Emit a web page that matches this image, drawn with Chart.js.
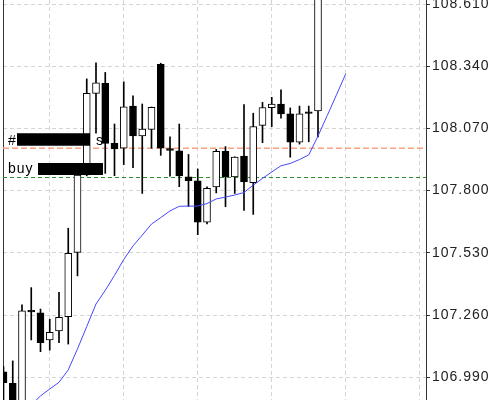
<!DOCTYPE html>
<html lang="en">
<head>
<meta charset="UTF-8">
<title>Candles</title>
<style>
  html, body { margin: 0; padding: 0; background: #fff; }
  #wrap { width: 495px; height: 400px; }
</style>
</head>
<body>
<div id="wrap"><canvas id="myChart"></canvas></div>
<script src="https://cdn.jsdelivr.net/npm/chart.js"></script>
<script>
// candle data, one entry per bar (bar index = position on the time axis)
const opens  = [107.014, 106.964, 106.880, 107.281, 107.270, 107.152, 107.191, 107.253, 107.532, 107.868,
                108.222, 108.266, 108.005, 107.984, 108.167, 108.038, 108.066, 108.348, 107.983, 107.973,
                107.860, 107.843, 107.663, 107.816, 107.971, 107.859, 107.950, 107.835, 108.083, 108.160,
                108.176, 108.133, 108.010, 108.142, 108.146];
const highs  = [107.036, 107.061, 107.304, 107.379, 107.286, 107.242, 107.359, 107.637, 107.877, 108.285,
                108.355, 108.313, 108.089, 108.272, 108.211, 108.176, 108.163, 108.353, 108.033, 108.089,
                107.957, 107.894, 107.817, 107.979, 107.991, 107.947, 108.174, 108.136, 108.183, 108.205,
                108.237, 108.159, 108.167, 108.167, 108.760];
const lows   = [106.860, 106.850, 106.860, 107.152, 107.101, 107.108, 107.140, 107.134, 107.430, 107.864,
                108.049, 107.875, 107.865, 107.913, 107.900, 107.788, 107.984, 107.953, 107.863, 107.817,
                107.731, 107.609, 107.655, 107.790, 107.730, 107.788, 107.714, 107.697, 108.008, 108.078,
                108.114, 107.945, 108.002, 108.012, 108.033];
const closes = [106.966, 106.870, 107.278, 107.274, 107.140, 107.185, 107.250, 107.528, 107.868, 108.222,
                108.268, 108.005, 107.981, 108.164, 108.037, 108.067, 108.162, 107.984, 107.975, 107.864,
                107.843, 107.663, 107.810, 107.971, 107.860, 107.946, 107.838, 108.078, 108.161, 108.176,
                108.133, 108.010, 108.133, 108.135, 108.700];

// moving average (shifted, runs 3 bars past the last candle)
const maValues = [null, null, null, 106.870, 106.909, 106.939, 106.968, 107.022, 107.113, 107.210,
                  107.308, 107.367, 107.432, 107.501, 107.560, 107.607, 107.655, 107.683, 107.712, 107.732,
                  107.733, 107.733, 107.744, 107.764, 107.772, 107.781, 107.792, 107.824, 107.853, 107.881,
                  107.908, 107.918, 107.935, 107.955, 108.037, 108.126, 108.216, 108.307];

// order lines: sell (orange), buy (green)
const orderLevels = [107.984, 107.857];

const yTicks = [106.990, 107.260, 107.530, 107.800, 108.070, 108.340, 108.610];
const xGridBars = [5, 13, 21, 29, 37, 45];

const X_MIN = -0.054, X_MAX = 45.676;
const Y_MIN = 106.8913, Y_MAX = 108.6274;

const bodyData = opens.map((o, i) => ({ x: i, y: [o, closes[i]] }));
const wickData = lows.map((l, i) => ({ x: i, y: [l, highs[i]] }));
const maData = maValues.map((v, i) => ({ x: i, y: v }));
const levelLine = v => [{ x: X_MIN, y: v }, { x: X_MAX, y: v }];

const FONT = { family: 'Liberation Sans', size: 14 };

const tradeLabels = {
  id: 'tradeLabels',
  beforeDraw(chart) {
    chart.ctx.letterSpacing = '1px';
  },
  afterDatasetsDraw(chart) {
    const ctx = chart.ctx;
    const y = chart.scales.y;
    ctx.save();
    ctx.font = '14px "Liberation Sans"';
    ctx.fillStyle = '#000';
    ctx.textBaseline = 'alphabetic';
    const p0 = y.getPixelForValue(orderLevels[0]);
    ctx.fillText('#', 8, p0 - 3);
    ctx.fillRect(17, p0 - 15, 73, 12.5);
    ctx.fillText('s', 96, p0 - 3);
    const p1 = y.getPixelForValue(orderLevels[1]);
    ctx.fillText('buy', 8, p1 - 4.5);
    ctx.fillRect(38, p1 - 14.5, 65, 12);
    ctx.restore();
  }
};

const ctx = document.getElementById('myChart');

new Chart(ctx, {
  type: 'bar',
  data: {
    datasets: [
      {
        type: 'line', data: levelLine(orderLevels[0]), borderColor: '#f8a27e', borderWidth: 1.5,
        borderDash: [6, 3], pointRadius: 0, order: 5, clip: 0
      },
      {
        type: 'line', data: levelLine(orderLevels[1]), borderColor: '#2f8f2f', borderWidth: 1,
        borderDash: [4, 3], pointRadius: 0, order: 4, clip: 0
      },
      {
        data: wickData, backgroundColor: '#000', borderWidth: 0,
        barThickness: 1, grouped: false, order: 3, clip: 0
      },
      {
        data: bodyData,
        backgroundColor: c => (closes[c.dataIndex] >= opens[c.dataIndex] ? '#fff' : '#000'),
        borderColor: '#000', borderWidth: 1, borderSkipped: false,
        barThickness: 7, grouped: false, order: 2, clip: 0
      },
      {
        type: 'line', data: maData, borderColor: 'rgb(70,70,255)', borderWidth: 1,
        pointRadius: 0, tension: 0, order: 1, clip: 0
      }
    ]
  },
  options: {
    responsive: true,
    maintainAspectRatio: false,
    animation: false,
    layout: { padding: 0 },
    plugins: { legend: { display: false }, tooltip: { enabled: false } },
    scales: {
      x: {
        type: 'linear', min: X_MIN, max: X_MAX, offset: false,
        grid: { color: '#d4d4d4', drawTicks: false, offset: false },
        border: { display: false, dash: [4, 3] },
        ticks: { display: false },
        afterBuildTicks: s => { s.ticks = xGridBars.map(v => ({ value: v })); },
        afterFit: s => { s.height = 0; s.paddingLeft = 0; s.paddingRight = 0; }
      },
      y: {
        position: 'right', min: Y_MIN, max: Y_MAX,
        grid: { color: '#d4d4d4', tickColor: '#333', tickLength: 4, tickBorderDash: [] },
        border: { color: '#333', dash: [4, 3] },
        ticks: { color: '#222', padding: 2, font: FONT, callback: v => v.toFixed(3) },
        afterBuildTicks: s => { s.ticks = yTicks.map(v => ({ value: v })); },
        afterFit: s => { s.width = 69; s.paddingTop = 0; s.paddingBottom = 0; }
      },
      yl: {
        position: 'left', display: true, min: 0, max: 1,
        grid: { display: false, drawTicks: false },
        border: { color: '#333' },
        ticks: { display: false },
        afterFit: s => { s.width = 3; s.paddingTop = 0; s.paddingBottom = 0; }
      }
    }
  },
  plugins: [tradeLabels]
});
</script>
</body>
</html>
